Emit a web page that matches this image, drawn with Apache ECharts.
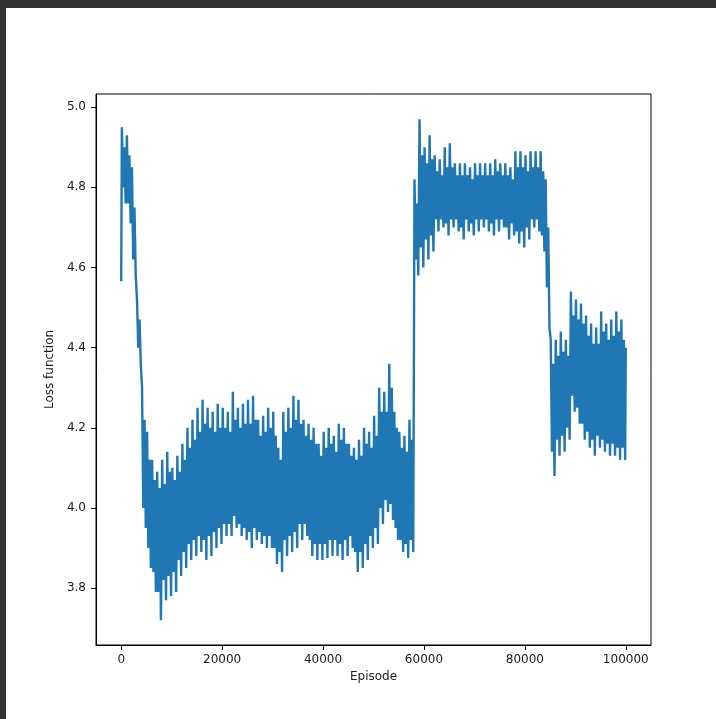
<!DOCTYPE html>
<html>
<head>
<meta charset="utf-8">
<script src="https://cdn.jsdelivr.net/npm/echarts@6/dist/echarts.min.js"></script>
<style>
  html, body { margin: 0; padding: 0; background: #323232; width: 716px; height: 719px; overflow: hidden; }
  #main { position: absolute; left: 6px; top: 8px; width: 710px; height: 711px; background: #fff; }
</style>
</head>
<body>
<div id="main"></div>
<script>
// loss curve in 1000-episode bins
var binSize = 1000;
var firstValue = 4.566;
var lastValue = 4.40;
// spike tops / spike bottoms in each bin
var highs = [
  4.95, 4.93, 4.85, 4.52, 4.30, 4.19, 4.12, 4.09, 4.12, 4.14,
  4.10, 4.13, 4.16, 4.20, 4.22, 4.25, 4.27, 4.25, 4.24, 4.26,
  4.25, 4.24, 4.29, 4.25, 4.26, 4.27, 4.28, 4.22, 4.23, 4.25,
  4.24, 4.15, 4.24, 4.25, 4.28, 4.27, 4.22, 4.21, 4.20, 4.16,
  4.19, 4.20, 4.18, 4.21, 4.20, 4.16, 4.15, 4.17, 4.20, 4.19,
  4.23, 4.30, 4.29, 4.36, 4.24, 4.19, 4.18, 4.22, 4.82, 4.97,
  4.90, 4.93, 4.88, 4.87, 4.90, 4.91, 4.86, 4.86, 4.86, 4.85,
  4.86, 4.86, 4.86, 4.86, 4.87, 4.86, 4.86, 4.85, 4.89, 4.89,
  4.88, 4.89, 4.89, 4.89, 4.82, 4.42, 4.42, 4.44, 4.42, 4.54,
  4.52, 4.51, 4.48, 4.46, 4.45, 4.49, 4.46, 4.47, 4.49, 4.47
];
var lows = [
  4.76, 4.71, 4.58, 4.36, 3.95, 3.85, 3.79, 3.72, 3.77, 3.78,
  3.79, 3.83, 3.85, 3.87, 3.88, 3.89, 3.87, 3.88, 3.90, 3.91,
  3.93, 3.93, 3.95, 3.93, 3.92, 3.90, 3.92, 3.91, 3.90, 3.90,
  3.86, 3.84, 3.88, 3.89, 3.90, 3.92, 3.93, 3.88, 3.87, 3.87,
  3.875, 3.88, 3.88, 3.87, 3.88, 3.90, 3.84, 3.85, 3.87, 3.90,
  3.91, 3.96, 3.99, 3.97, 3.92, 3.89, 3.875, 3.89, 4.58, 4.60,
  4.62, 4.64, 4.69, 4.70, 4.68, 4.70, 4.69, 4.67, 4.69, 4.68,
  4.69, 4.70, 4.69, 4.68, 4.69, 4.70, 4.67, 4.68, 4.66, 4.65,
  4.67, 4.70, 4.69, 4.64, 4.45, 4.08, 4.13, 4.14, 4.17, 4.24,
  4.21, 4.17, 4.15, 4.13, 4.15, 4.14, 4.13, 4.13, 4.12, 4.12
];
// upper / lower edge of the solid part of the band in each bin
var bandTops = [
  4.90, 4.88, 4.75, 4.47, 4.22, 4.12, 4.07, 4.05, 4.06, 4.09,
  4.07, 4.09, 4.12, 4.15, 4.17, 4.19, 4.21, 4.20, 4.19, 4.20,
  4.20, 4.19, 4.22, 4.20, 4.21, 4.21, 4.22, 4.18, 4.19, 4.20,
  4.18, 4.12, 4.19, 4.20, 4.22, 4.21, 4.18, 4.17, 4.16, 4.13,
  4.15, 4.16, 4.14, 4.17, 4.16, 4.13, 4.12, 4.13, 4.16, 4.15,
  4.18, 4.24, 4.24, 4.30, 4.20, 4.15, 4.14, 4.17, 4.76, 4.88,
  4.86, 4.87, 4.84, 4.83, 4.85, 4.85, 4.83, 4.83, 4.83, 4.82,
  4.83, 4.83, 4.83, 4.83, 4.84, 4.83, 4.83, 4.82, 4.85, 4.85,
  4.84, 4.85, 4.85, 4.84, 4.70, 4.36, 4.38, 4.39, 4.38, 4.48,
  4.47, 4.46, 4.43, 4.41, 4.41, 4.44, 4.42, 4.43, 4.44, 4.42
];
var bandBottoms = [
  4.80, 4.76, 4.62, 4.40, 4.00, 3.90, 3.84, 3.79, 3.82, 3.83,
  3.84, 3.87, 3.89, 3.91, 3.92, 3.93, 3.92, 3.93, 3.94, 3.95,
  3.96, 3.96, 3.98, 3.96, 3.95, 3.94, 3.95, 3.94, 3.93, 3.93,
  3.90, 3.89, 3.92, 3.93, 3.94, 3.96, 3.96, 3.92, 3.91, 3.91,
  3.91, 3.92, 3.92, 3.91, 3.92, 3.93, 3.89, 3.89, 3.91, 3.93,
  3.95, 4.00, 4.02, 4.01, 3.95, 3.92, 3.91, 3.92, 4.62, 4.65,
  4.67, 4.68, 4.72, 4.72, 4.71, 4.72, 4.72, 4.70, 4.72, 4.71,
  4.72, 4.72, 4.72, 4.71, 4.72, 4.72, 4.70, 4.71, 4.69, 4.69,
  4.70, 4.72, 4.72, 4.68, 4.55, 4.14, 4.17, 4.18, 4.20, 4.28,
  4.25, 4.21, 4.19, 4.17, 4.18, 4.17, 4.16, 4.16, 4.15, 4.15
];
var xTicks = [0, 20000, 40000, 60000, 80000, 100000];
var yTicks = [3.8, 4.0, 4.2, 4.4, 4.6, 4.8, 5.0];

// the raw trace swings up and down several times inside each bin
var lineData = [[0, firstValue]];
for (var i = 0; i < highs.length; i++) {
    var x0 = i * binSize;
    lineData.push([x0 + binSize * 0.125, highs[i]]);
    lineData.push([x0 + binSize * 0.375, bandBottoms[i]]);
    lineData.push([x0 + binSize * 0.625, bandTops[i]]);
    lineData.push([x0 + binSize * 0.875, lows[i]]);
}
lineData.push([99999, lastValue]);

var myChart = echarts.init(document.getElementById('main'));
var textColor = '#1a1a1a';
var option = {
    animation: false,
    backgroundColor: '#fff',
    grid: {
        left: 90, top: 86, right: 65, bottom: 74,
        show: true, borderColor: '#000', borderWidth: 1, backgroundColor: '#fff'
    },
    xAxis: {
        type: 'value',
        min: -5000,
        max: 105000,
        name: 'Episode',
        nameLocation: 'middle',
        nameGap: 24,
        nameTextStyle: { fontFamily: 'DejaVu Sans', fontSize: 12, color: textColor },
        axisLine: { show: true, onZero: false, lineStyle: { color: '#000', width: 1 } },
        axisTick: { show: true, inside: false, length: 5, lineStyle: { color: '#000' }, customValues: xTicks },
        axisLabel: {
            fontFamily: 'DejaVu Sans', fontSize: 12, color: textColor, margin: 9,
            customValues: xTicks,
            formatter: function (v) { return String(v); }
        },
        splitLine: { show: false }
    },
    yAxis: {
        type: 'value',
        min: 3.658,
        max: 5.033,
        name: 'Loss function',
        nameLocation: 'middle',
        nameRotate: 90,
        nameGap: 35,
        nameTextStyle: { fontFamily: 'DejaVu Sans', fontSize: 12, color: textColor },
        axisLine: { show: true, onZero: false, lineStyle: { color: '#000', width: 1 } },
        axisTick: { show: true, inside: false, length: 5, lineStyle: { color: '#000' }, customValues: yTicks },
        axisLabel: {
            fontFamily: 'DejaVu Sans', fontSize: 12, color: textColor, margin: 10,
            customValues: yTicks,
            formatter: function (v) { return v.toFixed(1); }
        },
        splitLine: { show: false }
    },
    series: [
        {
            type: 'line',
            data: lineData,
            showSymbol: false,
            symbol: 'none',
            sampling: null,
            lineStyle: { color: '#1f77b4', width: 2.4 },
            clip: true
        }
    ]
};
myChart.setOption(option);
</script>
</body>
</html>
